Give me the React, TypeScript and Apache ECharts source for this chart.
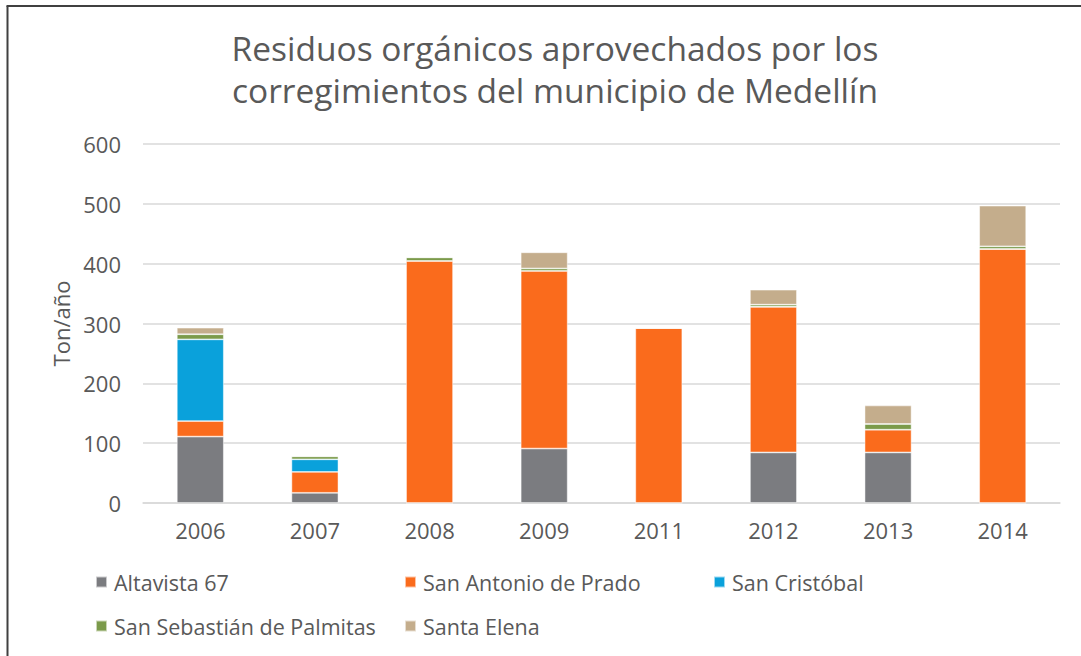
import React, { useEffect, useRef } from "react";
import * as echarts from "echarts";

const years = ["2006", "2007", "2008", "2009", "2011", "2012", "2013", "2014"];
const altavista = [111, 17, 0, 91, 0, 84.5, 84.5, 0];
const sanAntonio = [26, 35, 404.5, 297, 292.5, 243.5, 38, 424.5];
const sanCristobal = [136.5, 21, 0, 0, 0, 0, 0, 0];
const palmitas = [8.5, 5, 6, 4, 0, 3.5, 9.5, 4.5];
const santaElena = [11, 1, 0, 27, 0, 25, 31, 68];
const yTicks = { min: 0, max: 600, interval: 100 };

const seriesDefs = [
  { name: "Altavista 67", data: altavista, color: "#7b7c80" },
  { name: "San Antonio de Prado", data: sanAntonio, color: "#fa6b1c" },
  { name: "San Cristóbal", data: sanCristobal, color: "#0aa1db" },
  { name: "San Sebastián de Palmitas", data: palmitas, color: "#7b9a4a" },
  { name: "Santa Elena", data: santaElena, color: "#c4ad8c" },
];

const legendPos = [
  { left: 95, top: 571 },
  { left: 404, top: 571 },
  { left: 713, top: 571 },
  { left: 95, top: 615 },
  { left: 404, top: 615 },
];

const FONT = "Open Sans";
const TXT = "#595959";

export default function App() {
  const ref = useRef<HTMLDivElement>(null);
  useEffect(() => {
    if (!ref.current) return;
    const chart = echarts.init(ref.current, null, { renderer: "svg" });
    chart.setOption({
      animation: false,
      backgroundColor: "#ffffff",
      textStyle: { fontFamily: FONT },
      title: {
        text: "Residuos orgánicos aprovechados por los\ncorregimientos del municipio de Medellín",
        left: 550,
        textAlign: "center",
        top: 22,
        textStyle: {
          fontFamily: FONT,
          fontSize: 33.5,
          fontWeight: "normal",
          color: TXT,
          lineHeight: 42,
        },
      },
      grid: { left: 143, right: 21, top: 144, bottom: 153, containLabel: false },
      legend: seriesDefs.map((s, i) => ({
        data: [s.name],
        left: legendPos[i].left,
        top: legendPos[i].top,
        padding: 0,
        icon: "rect",
        itemWidth: 11,
        itemHeight: 11,
        itemGap: 0,
        selectedMode: false,
        textStyle: { fontFamily: FONT, fontSize: 21.5, color: TXT, padding: [0, 0, 0, 2] },
      })),
      xAxis: {
        type: "category",
        data: years,
        axisLine: { lineStyle: { color: "#d9d9d9", width: 1.5 } },
        axisTick: { show: false },
        axisLabel: { fontFamily: FONT, fontSize: 22, color: TXT, margin: 16 },
      },
      yAxis: {
        type: "value",
        min: yTicks.min,
        max: yTicks.max,
        interval: yTicks.interval,
        name: "Ton/año",
        nameLocation: "middle",
        nameGap: 70,
        nameTextStyle: { fontFamily: FONT, fontSize: 22, color: TXT },
        axisLine: { show: false },
        axisTick: { show: false },
        axisLabel: { fontFamily: FONT, fontSize: 22, color: TXT, margin: 22 },
        splitLine: { lineStyle: { color: "#d9d9d9", width: 1.5 } },
      },
      series: seriesDefs.map((s) => ({
        name: s.name,
        type: "bar",
        stack: "total",
        barWidth: 47,
        data: s.data,
        itemStyle: { color: s.color, borderColor: "rgba(255,255,255,0.6)", borderWidth: 0.8 },
      })),
      graphic: [
        {
          type: "line",
          shape: { x1: 7.5, y1: 6, x2: 7.5, y2: 656 },
          style: { stroke: "#404040", lineWidth: 2 },
        },
        {
          type: "line",
          shape: { x1: 6.5, y1: 6, x2: 1081, y2: 6 },
          style: { stroke: "#404040", lineWidth: 2 },
        },
      ],
    });
    return () => chart.dispose();
  }, []);
  return (
    <div
      ref={ref}
      style={{ position: "absolute", left: 0, top: 0, width: 1081, height: 656 }}
    />
  );
}
